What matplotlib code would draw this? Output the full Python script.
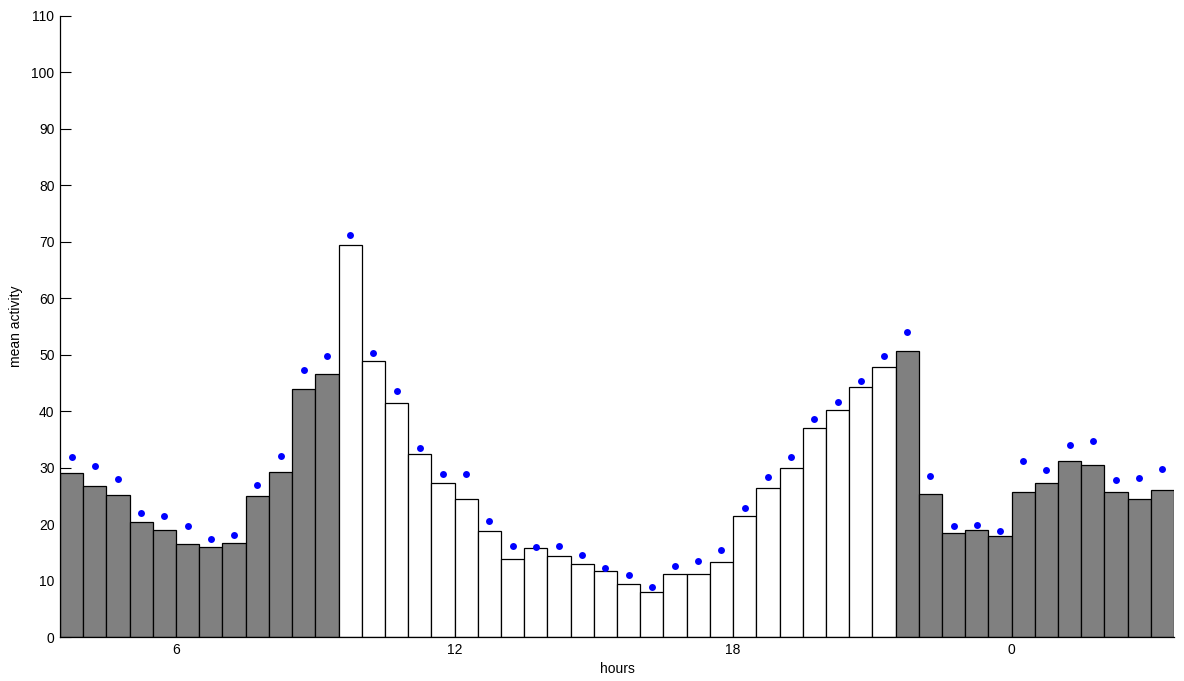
import matplotlib.pyplot as plt
import numpy as np

plt.rcParams['font.family'] = ['Liberation Sans', 'DejaVu Sans']

# half-hour bins, starting at 3:30 and running to 27:30 (03:30 next day)
bin_start = 3.5
bin_width = 0.5

bar_values = [29.05, 26.7, 25.1, 20.3, 18.9, 16.5, 15.9, 16.7, 24.9, 29.3, 43.9, 46.6,
              69.5, 48.9, 41.4, 32.5, 27.2, 24.5, 18.7, 13.9, 15.7, 14.3, 13.0, 11.7,
              9.3, 8.0, 11.1, 11.1, 13.3, 21.5, 26.4, 29.9, 37.1, 40.2, 44.2, 47.8,
              50.7, 25.3, 18.4, 18.9, 17.9, 25.7, 27.3, 31.2, 30.5, 25.6, 24.4, 26.1]

dot_values = [31.8, 30.3, 28.0, 22.0, 21.4, 19.6, 17.4, 18.0, 27.0, 32.0, 47.3, 49.8,
              71.2, 50.3, 43.5, 33.5, 28.9, 28.9, 20.6, 16.2, 16.0, 16.2, 14.6, 12.2,
              10.9, 8.9, 12.5, 13.5, 15.4, 22.8, 28.3, 31.8, 38.7, 41.7, 45.3, 49.7,
              54.0, 28.6, 19.6, 19.8, 18.8, 31.2, 29.6, 34.0, 34.8, 27.8, 28.2, 29.8]

# light period (white) 9:30 - 21:30, dark otherwise (gray)
light_on, light_off = 9.5, 21.5

tick_pos = [6, 12, 18, 24]
tick_labels = ['6', '12', '18', '0']

centers = bin_start + bin_width * (np.arange(len(bar_values)) + 0.5)
colors = ['white' if light_on <= c < light_off else '#808080' for c in centers]

fig = plt.figure(figsize=(11.84, 6.81), dpi=100)
ax = fig.add_axes([0.0507, 0.0646, 0.9409, 0.912])

ax.bar(centers, bar_values, width=bin_width, color=colors, edgecolor='black',
       linewidth=0.9, zorder=2)
ax.plot(centers, dot_values, 'o', color='#0000ff', markersize=5,
        markeredgewidth=0, zorder=3)

ax.set_xlim(bin_start, bin_start + bin_width * len(bar_values))
ax.set_ylim(0, 110)
ax.set_yticks(np.arange(0, 111, 10))
ax.set_xticks(tick_pos)
ax.set_xticklabels(tick_labels)

ax.spines['top'].set_visible(False)
ax.spines['right'].set_visible(False)
ax.spines['left'].set_linewidth(0.9)
ax.spines['bottom'].set_linewidth(0.9)
ax.tick_params(direction='in', length=8, width=0.8, labelsize=10, pad=4)
ax.tick_params(axis='x', pad=4)

ax.set_xlabel('hours', fontsize=10, labelpad=4)
ax.set_ylabel('mean activity', fontsize=10, labelpad=6)

fig.savefig('out.png', dpi=100)
